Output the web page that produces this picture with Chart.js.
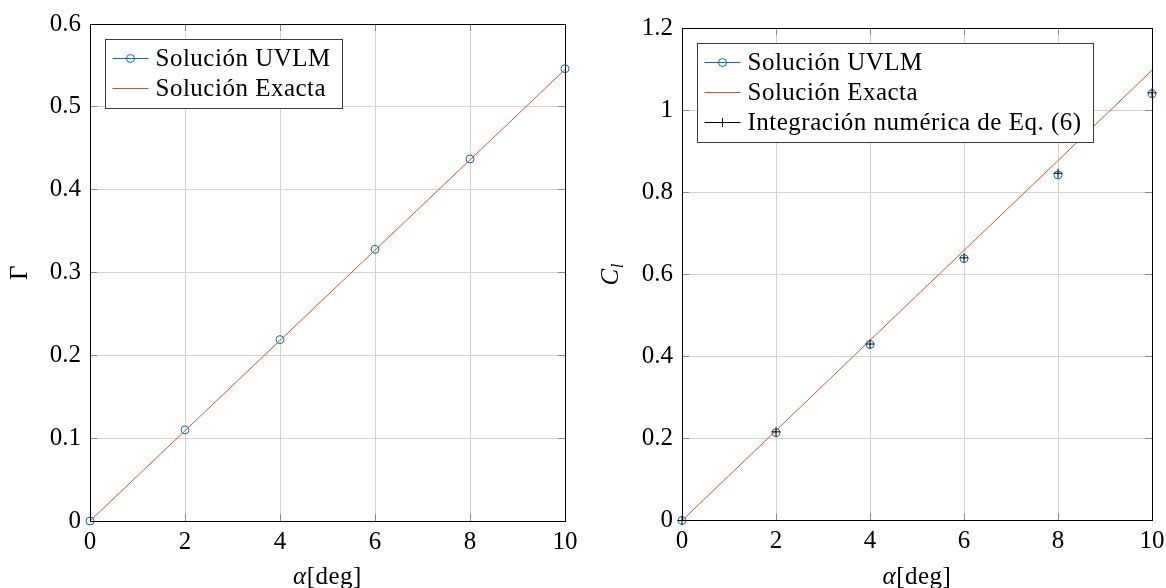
<!DOCTYPE html>
<html>
<head>
<meta charset="utf-8">
<script src="https://cdn.jsdelivr.net/npm/chart.js@4.4.0/dist/chart.umd.min.js"></script>
<style>
html, body { margin: 0; padding: 0; background: #fff; }
#wrap { position: relative; width: 1166px; height: 588px; }
.panel { position: absolute; top: 0; width: 583px; height: 588px; }
</style>
</head>
<body>
<div id="wrap">
  <div class="panel" style="left:0"><canvas id="gamma-chart"></canvas></div>
  <div class="panel" style="left:583px"><canvas id="cl-chart"></canvas></div>
</div>
<script>
// data
const alphaDeg = [0, 2, 4, 6, 8, 10];
const gammaUvlm = [0, 0.110, 0.219, 0.328, 0.437, 0.546];
const gammaExact = [0, 0.109, 0.218, 0.327, 0.436, 0.545];
const clUvlm = [0, 0.214, 0.429, 0.638, 0.842, 1.040];
const clExact = [0, 0.219, 0.439, 0.658, 0.877, 1.097];
const clIntegration = [0, 0.216, 0.430, 0.640, 0.846, 1.042];

const alphaTicks = [0, 2, 4, 6, 8, 10];
const gammaTicks = [0, 0.1, 0.2, 0.3, 0.4, 0.5, 0.6];
const clTicks = [0, 0.2, 0.4, 0.6, 0.8, 1, 1.2];

const SERIF = '"Liberation Serif", "Times New Roman", serif';
const FONT_PX = 25;
const BLUE = '#0072BD';
const ORANGE = '#D95319';
const TICK_LEN = 7;

function align(px) {
    return Math.round(px - 0.5) + 0.5;
}

function toPoints(ys) {
    return alphaDeg.map((a, i) => ({ x: a, y: ys[i] }));
}

function fmt(v) {
    return String(Math.round(v * 10) / 10);
}

// box around the plot plus short inward ticks on all four sides
const framePlugin = {
    id: 'frame',
    beforeDatasetsDraw(chart) {
        const { ctx, chartArea: a, scales } = chart;
        ctx.save();
        ctx.strokeStyle = '#8a8a8a';
        ctx.lineWidth = 1;
        ctx.beginPath();
        scales.x.ticks.forEach(t => {
            const px = align(scales.x.getPixelForValue(t.value));
            ctx.moveTo(px, a.bottom); ctx.lineTo(px, a.bottom - TICK_LEN);
            ctx.moveTo(px, a.top); ctx.lineTo(px, a.top + TICK_LEN);
        });
        scales.y.ticks.forEach(t => {
            const py = align(scales.y.getPixelForValue(t.value));
            ctx.moveTo(a.left, py); ctx.lineTo(a.left + TICK_LEN, py);
            ctx.moveTo(a.right, py); ctx.lineTo(a.right - TICK_LEN, py);
        });
        ctx.stroke();
        ctx.restore();
    },
    afterDatasetsDraw(chart) {
        const { ctx, chartArea: a } = chart;
        const l = align(a.left), r = align(a.right), t = align(a.top), b = align(a.bottom);
        ctx.save();
        ctx.strokeStyle = '#000';
        ctx.lineWidth = 1;
        ctx.strokeRect(l, t, r - l, b - t);
        ctx.restore();
    }
};

function drawMarker(ctx, style, x, y, r) {
    ctx.beginPath();
    if (style === 'cross') {
        ctx.moveTo(x - r, y); ctx.lineTo(x + r, y);
        ctx.moveTo(x, y - r); ctx.lineTo(x, y + r);
    } else {
        ctx.arc(x, y, r, 0, Math.PI * 2);
    }
    ctx.stroke();
}

// pgfplots style legend: framed box, line sample with the marker in the middle
const boxLegendPlugin = {
    id: 'boxLegend',
    afterDraw(chart, args, opts) {
        const { ctx, chartArea: a } = chart;
        const sets = chart.data.datasets;
        ctx.save();
        ctx.font = FONT_PX + 'px ' + SERIF;
        ctx.letterSpacing = '0.5px';
        const textW = Math.max(...sets.map(d => ctx.measureText(d.label).width));
        const bx = Math.round(a.left + 15) + 0.5;
        const by = Math.round(a.top + 15) + 0.5;
        const bw = Math.round(50 + textW + 12);
        const bh = sets.length * 30 + 9;
        ctx.fillStyle = '#fff';
        ctx.fillRect(bx, by, bw, bh);
        ctx.strokeStyle = '#3c3c3c';
        ctx.lineWidth = 1;
        ctx.strokeRect(bx, by, bw, bh);
        sets.forEach((d, i) => {
            const cy = by + 19 + 30 * i;
            ctx.strokeStyle = d.borderColor;
            ctx.lineWidth = 1;
            ctx.beginPath();
            ctx.moveTo(bx + 7, cy); ctx.lineTo(bx + 43, cy);
            ctx.stroke();
            if (d.pointRadius > 0) {
                drawMarker(ctx, d.pointStyle, bx + 25, cy, d.pointRadius);
            }
            ctx.fillStyle = '#000';
            ctx.textBaseline = 'middle';
            ctx.textAlign = 'left';
            ctx.fillText(d.label, bx + 50, cy + 1);
        });
        ctx.restore();
    }
};

// axis titles with mixed italic / subscript pieces
function drawParts(ctx, parts, cx, baseY) {
    const fontOf = p => (p.italic ? 'italic ' : '') + (p.sub ? 17 : FONT_PX) + 'px ' + SERIF;
    let total = 0;
    parts.forEach(p => { ctx.font = fontOf(p); total += ctx.measureText(p.text).width; });
    let x = cx - total / 2;
    parts.forEach(p => {
        ctx.font = fontOf(p);
        ctx.fillText(p.text, x, baseY + (p.sub ? 5 : 0));
        x += ctx.measureText(p.text).width;
    });
}

const axisTitlePlugin = {
    id: 'axisTitles',
    afterDraw(chart, args, opts) {
        const { ctx, chartArea: a } = chart;
        ctx.save();
        ctx.fillStyle = '#000';
        ctx.textAlign = 'left';
        ctx.textBaseline = 'alphabetic';
        ctx.letterSpacing = '0.5px';
        drawParts(ctx, opts.xParts, (a.left + a.right) / 2, opts.xY + 8);
        ctx.translate(opts.yX, (a.top + a.bottom) / 2);
        ctx.rotate(-Math.PI / 2);
        drawParts(ctx, opts.yParts, 0, 8);
        ctx.restore();
    }
};

function buildChart(canvasId, cfg) {
    const tickFont = { family: SERIF, size: FONT_PX };
    return new Chart(document.getElementById(canvasId), {
        type: 'scatter',
        data: { datasets: cfg.datasets },
        options: {
            responsive: true,
            maintainAspectRatio: false,
            animation: false,
            layout: { padding: { top: cfg.padTop, right: cfg.padRight, left: 0, bottom: 0 } },
            scales: {
                x: {
                    type: 'linear', min: 0, max: 10,
                    afterBuildTicks: s => { s.ticks = alphaTicks.map(v => ({ value: v })); },
                    afterFit: s => { s.height = cfg.xAxisH; s.paddingLeft = 0; s.paddingRight = 0; },
                    ticks: { color: '#000', font: tickFont, padding: 6, maxRotation: 0, callback: fmt },
                    grid: { color: '#d2d2d2', drawTicks: false },
                    border: { display: false }
                },
                y: {
                    type: 'linear', min: cfg.yTicks[0], max: cfg.yTicks[cfg.yTicks.length - 1],
                    afterBuildTicks: s => { s.ticks = cfg.yTicks.map(v => ({ value: v })); },
                    afterFit: s => { s.width = cfg.yAxisW; s.paddingTop = 0; s.paddingBottom = 0; },
                    ticks: { color: '#000', font: tickFont, padding: 9, callback: fmt },
                    grid: { color: '#d2d2d2', drawTicks: false },
                    border: { display: false }
                }
            },
            plugins: {
                legend: { display: false },
                tooltip: { enabled: false },
                boxLegend: {},
                axisTitles: cfg.titles
            }
        },
        plugins: [framePlugin, boxLegendPlugin, axisTitlePlugin]
    });
}

function uvlmSet(ys) {
    return {
        label: 'Solución UVLM', data: toPoints(ys), showLine: false, clip: false,
        borderColor: BLUE, backgroundColor: 'rgba(0,0,0,0)',
        pointStyle: 'circle', pointRadius: 4, pointBorderWidth: 1, order: 3
    };
}

function exactSet(ys) {
    return {
        label: 'Solución Exacta', data: toPoints(ys), showLine: true,
        borderColor: ORANGE, backgroundColor: ORANGE, borderWidth: 1,
        pointRadius: 0, order: 2
    };
}

document.addEventListener('DOMContentLoaded', function () {
    buildChart('gamma-chart', {
        padTop: 24, padRight: 18, yAxisW: 90, xAxisH: 67,
        yTicks: gammaTicks,
        datasets: [uvlmSet(gammaUvlm), exactSet(gammaExact)],
        titles: {
            xParts: [{ text: 'α', italic: true }, { text: '[deg]' }], xY: 576,
            yParts: [{ text: 'Γ' }], yX: 19
        }
    });

    buildChart('cl-chart', {
        padTop: 28, padRight: 14, yAxisW: 99, xAxisH: 67.5,
        yTicks: clTicks,
        datasets: [
            uvlmSet(clUvlm),
            exactSet(clExact),
            {
                label: 'Integración numérica de Eq. (6)', data: toPoints(clIntegration), showLine: false, clip: false,
                borderColor: '#000', backgroundColor: '#000',
                pointStyle: 'cross', pointRadius: 4.5, pointBorderWidth: 1, order: 1
            }
        ],
        titles: {
            xParts: [{ text: 'α', italic: true }, { text: '[deg]' }], xY: 576,
            yParts: [{ text: 'C', italic: true }, { text: 'l', italic: true, sub: true }], yX: 27
        }
    });
});
</script>
</body>
</html>
